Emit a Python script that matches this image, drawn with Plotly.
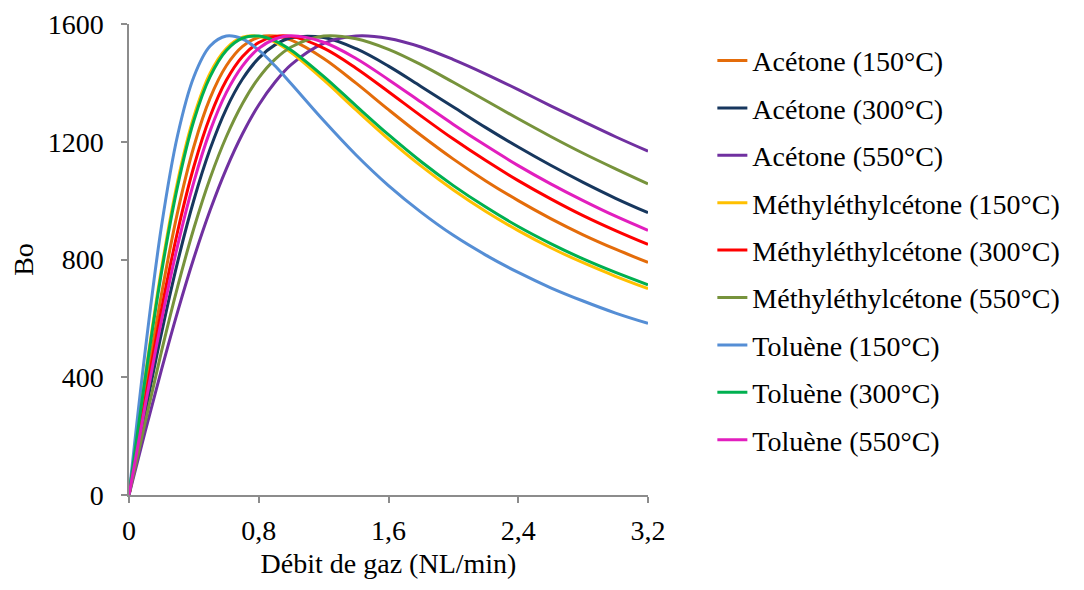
import plotly.graph_objects as go

x = [0, 0.1, 0.2, 0.3, 0.4, 0.5, 0.6, 0.7, 0.8, 0.9, 1.0, 1.2, 1.4, 1.6, 1.8, 2.0, 2.2, 2.4, 2.6, 2.8, 3.0, 3.2]

acetone_150 = [0, 354, 681, 962, 1184, 1348, 1458, 1524, 1555, 1559, 1545, 1483, 1399, 1309, 1222, 1141, 1067, 1000, 939, 884, 835, 790]
acetone_300 = [0, 281, 549, 792, 1002, 1175, 1312, 1413, 1484, 1529, 1553, 1554, 1516, 1457, 1388, 1318, 1248, 1182, 1120, 1062, 1008, 959]
acetone_550 = [0, 216, 425, 623, 805, 967, 1108, 1227, 1325, 1402, 1462, 1534, 1559, 1551, 1522, 1479, 1430, 1377, 1322, 1269, 1217, 1168]
mek_150 = [0, 404, 768, 1066, 1286, 1433, 1517, 1555, 1558, 1538, 1503, 1410, 1308, 1209, 1118, 1036, 963, 898, 840, 789, 743, 701]
mek_300 = [0, 325, 629, 896, 1116, 1286, 1409, 1490, 1537, 1558, 1558, 1518, 1450, 1370, 1288, 1209, 1136, 1068, 1006, 949, 898, 851]
mek_550 = [0, 248, 487, 708, 906, 1076, 1217, 1330, 1417, 1480, 1522, 1559, 1550, 1514, 1462, 1402, 1340, 1278, 1218, 1161, 1108, 1057]
toluene_150 = [0, 490, 912, 1223, 1421, 1525, 1559, 1549, 1511, 1458, 1397, 1272, 1155, 1051, 961, 882, 815, 756, 704, 659, 618, 583]
toluene_300 = [0, 396, 755, 1050, 1272, 1421, 1510, 1552, 1559, 1543, 1511, 1422, 1322, 1224, 1133, 1051, 978, 912, 854, 802, 756, 714]
toluene_550 = [0, 304, 592, 848, 1064, 1237, 1367, 1458, 1517, 1549, 1560, 1538, 1483, 1411, 1335, 1259, 1187, 1119, 1057, 1000, 947, 899]

names = ["Acétone (150°C)", "Acétone (300°C)", "Acétone (550°C)",
         "Méthyléthylcétone (150°C)", "Méthyléthylcétone (300°C)", "Méthyléthylcétone (550°C)",
         "Toluène (150°C)", "Toluène (300°C)", "Toluène (550°C)"]
series = [acetone_150, acetone_300, acetone_550, mek_150, mek_300, mek_550,
          toluene_150, toluene_300, toluene_550]
colors = ["#E46C0A", "#17375E", "#7030A0", "#FFC000", "#FF0000", "#77933C",
          "#558ED5", "#00B050", "#E21EBE"]

x_ticks = [0, 0.8, 1.6, 2.4, 3.2]
x_ticktext = ["0", "0,8", "1,6", "2,4", "3,2"]
y_ticks = [0, 400, 800, 1200, 1600]

FONT = "Liberation Serif, Times New Roman, serif"
FS = 28

fig = go.Figure()
for i, (n, s, c) in enumerate(zip(names, series, colors)):
    fig.add_trace(go.Scatter(x=x, y=s, name=n, mode="lines",
                             line=dict(color=c, width=3, shape="spline", smoothing=1.0),
                             legendgroup=f"g{i}"))

fig.update_layout(
    width=1076, height=582,
    margin=dict(l=121, r=436, t=16, b=95),
    paper_bgcolor="white", plot_bgcolor="white",
    font=dict(family=FONT, size=FS, color="black"),
    legend=dict(x=1.124, y=0.975, xanchor="left", yanchor="top",
                font=dict(family=FONT, size=FS, color="black"),
                tracegroupgap=8, bgcolor="rgba(0,0,0,0)"),
    showlegend=True,
)
fig.update_xaxes(range=[0, 3.2], tickvals=x_ticks, ticktext=x_ticktext,
                 showline=True, linecolor="#8C8C8C", linewidth=1.5,
                 ticks="outside", ticklen=6, tickcolor="#8C8C8C", tickwidth=1.5,
                 showgrid=False, zeroline=False, ticklabelstandoff=4, automargin=False,
                 title=dict(text="Débit de gaz (NL/min)", font=dict(family=FONT, size=FS), standoff=8),
                 tickfont=dict(family=FONT, size=FS))
fig.update_yaxes(range=[0, 1600], tickvals=y_ticks,
                 showline=True, linecolor="#8C8C8C", linewidth=1.5,
                 ticks="outside", ticklen=6, tickcolor="#8C8C8C", tickwidth=1.5,
                 showgrid=False, zeroline=False, ticklabelstandoff=12, automargin=False,
                 title=dict(text="Bo", font=dict(family=FONT, size=FS), standoff=21),
                 tickfont=dict(family=FONT, size=FS))

fig.write_html("out.html")
